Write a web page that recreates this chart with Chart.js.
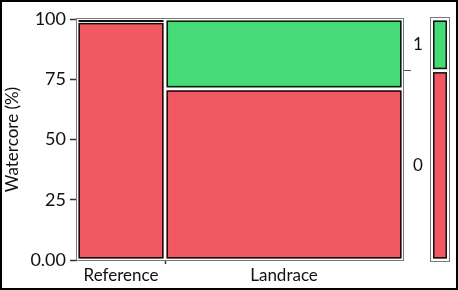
<!DOCTYPE html>
<html>
<head>
<meta charset="utf-8">
<script src="https://cdn.jsdelivr.net/npm/chart.js@4/dist/chart.umd.min.js"></script>
<style>
html,body{margin:0;padding:0;background:#fff;}
#wrap{width:454px;height:286px;border:2px solid #000;position:relative;}
canvas{display:block;}
</style>
</head>
<body>
<div id="wrap"><canvas id="c" width="454" height="286"></canvas></div>
<script>
// ---- data ----
const categories = ['Reference', 'Landrace'];
const groupShare = [27, 73];          // % of samples in each group (tile widths)
const pctLevel0 = [99, 71];           // Watercore = 0 (%)
const pctLevel1 = [1, 29];            // Watercore = 1 (%)
const levels = ['0', '1'];
const yTickValues = [0, 25, 50, 75, 100];
const yTickLabels = ['0.00', '25', '50', '75', '100'];
const levelColors = ['#F25862', '#47DB77'];

// derived
const cumStart = [];
let acc = 0;
groupShare.forEach(s => { cumStart.push(acc); acc += s; });
const overall0 = groupShare.reduce((t, s, i) => t + s * pctLevel0[i], 0) / 100;
const xCenters = groupShare.map((s, i) => cumStart[i] + s / 2);
const xBoundaries = cumStart.slice(1);

const FONT = 'Lato, "DejaVu Sans", sans-serif';

function tile(ctx, x0, x1, y0, y1, color) {
  const g = 1.5;
  const L = Math.min(x0, x1) + g, R = Math.max(x0, x1) - g;
  const T = Math.min(y0, y1) + g, B = Math.max(y0, y1) - g;
  ctx.save();
  ctx.lineWidth = 1.5;
  ctx.strokeStyle = '#111';
  if (B - T < 2) {
    ctx.fillStyle = '#111';
    ctx.fillRect(L, T - 0.5, R - L, Math.max(2, B - T + 1));
  } else {
    ctx.fillStyle = color;
    ctx.fillRect(L, T, R - L, B - T);
    ctx.strokeRect(L + 0.75, T + 0.75, R - L - 1.5, B - T - 1.5);
  }
  ctx.restore();
}

const mosaicPlugin = {
  id: 'mosaic',
  afterDraw(chart) {
    const ctx = chart.ctx;
    const xs = chart.scales.x, ys = chart.scales.y;
    const a = chart.chartArea;
    // frame
    ctx.save();
    ctx.strokeStyle = '#777';
    ctx.lineWidth = 1;
    ctx.strokeRect(a.left - 0.5, a.top - 0.5, a.right - a.left + 1, a.bottom - a.top + 1);
    ctx.restore();
    // tiles
    categories.forEach((c, i) => {
      const px0 = xs.getPixelForValue(cumStart[i]);
      const px1 = xs.getPixelForValue(cumStart[i] + groupShare[i]);
      const yb = ys.getPixelForValue(0);
      const ym = ys.getPixelForValue(pctLevel0[i]);
      const yt = ys.getPixelForValue(pctLevel0[i] + pctLevel1[i]);
      tile(ctx, px0, px1, yb, ym, levelColors[0]);
      tile(ctx, px0, px1, ym, yt, levelColors[1]);
    });
    // overall marginal bar
    const bx0 = chart.width - 26, bx1 = chart.width - 6;
    const yb = ys.getPixelForValue(0), ym = ys.getPixelForValue(overall0), yt = ys.getPixelForValue(100);
    ctx.save();
    ctx.strokeStyle = '#777';
    ctx.lineWidth = 1;
    ctx.strokeRect(bx0 + 0.5, yt - 1.5, bx1 - bx0 - 1, yb - yt + 3);
    ctx.restore();
    tile(ctx, bx0 + 1.5, bx1 - 1.5, yb, ym, levelColors[0]);
    tile(ctx, bx0 + 1.5, bx1 - 1.5, ym, yt, levelColors[1]);
  }
};

new Chart(document.getElementById('c'), {
  type: 'scatter',
  data: { datasets: [{ data: [], pointRadius: 0 }] },
  options: {
    responsive: false,
    animation: false,
    layout: { padding: { left: 0, top: 17, right: 28, bottom: 0 } },
    plugins: { legend: { display: false }, tooltip: { enabled: false } },
    scales: {
      x: {
        type: 'linear', min: 0, max: 100,
        afterBuildTicks(s) {
          s.ticks = xCenters.map(v => ({ value: v })).concat(xBoundaries.map(v => ({ value: v })));
        },
        afterFit(s) { s.height = 28; },
        border: { display: false },
        grid: {
          drawOnChartArea: false, tickLength: 4, tickWidth: 1.5,
          tickColor: ctx => (ctx.tick && xBoundaries.includes(ctx.tick.value)) ? '#333' : 'rgba(0,0,0,0)'
        },
        ticks: {
          autoSkip: false, maxRotation: 0, padding: 1,
          color: '#111', font: { family: FONT, size: 17 },
          callback: (v) => { const i = xCenters.indexOf(v); return i >= 0 ? categories[i] : ''; }
        }
      },
      y: {
        type: 'linear', min: 0, max: 100, position: 'left',
        afterBuildTicks(s) { s.ticks = yTickValues.map(v => ({ value: v })); },
        afterFit(s) { s.width = 75; },
        border: { display: false },
        grid: { drawOnChartArea: false, tickLength: 7, tickWidth: 1.5, tickColor: '#333' },
        ticks: {
          padding: 4, color: '#111', font: { family: FONT, size: 18 },
          callback: (v) => { const i = yTickValues.indexOf(v); return i >= 0 ? yTickLabels[i] : ''; }
        },
        title: { display: true, text: 'Watercore (%)', color: '#111', font: { family: FONT, size: 17 }, padding: { top: 0, bottom: 0 } }
      },
      y2: {
        type: 'linear', min: 0, max: 100, position: 'right',
        afterBuildTicks(s) {
          s.ticks = [{ value: overall0 / 2 }, { value: overall0 }, { value: (overall0 + 100) / 2 }];
        },
        afterFit(s) { s.width = 25; },
        border: { display: false },
        grid: {
          drawOnChartArea: false, tickLength: 8, tickWidth: 1,
          tickColor: ctx => (ctx.tick && ctx.tick.value === overall0) ? '#555' : 'rgba(0,0,0,0)'
        },
        ticks: {
          padding: 2, color: '#111', font: { family: FONT, size: 17 },
          callback: (v) => v === overall0 / 2 ? levels[0] : (v === (overall0 + 100) / 2 ? levels[1] : '')
        }
      }
    }
  },
  plugins: [mosaicPlugin]
});
</script>
</body>
</html>
